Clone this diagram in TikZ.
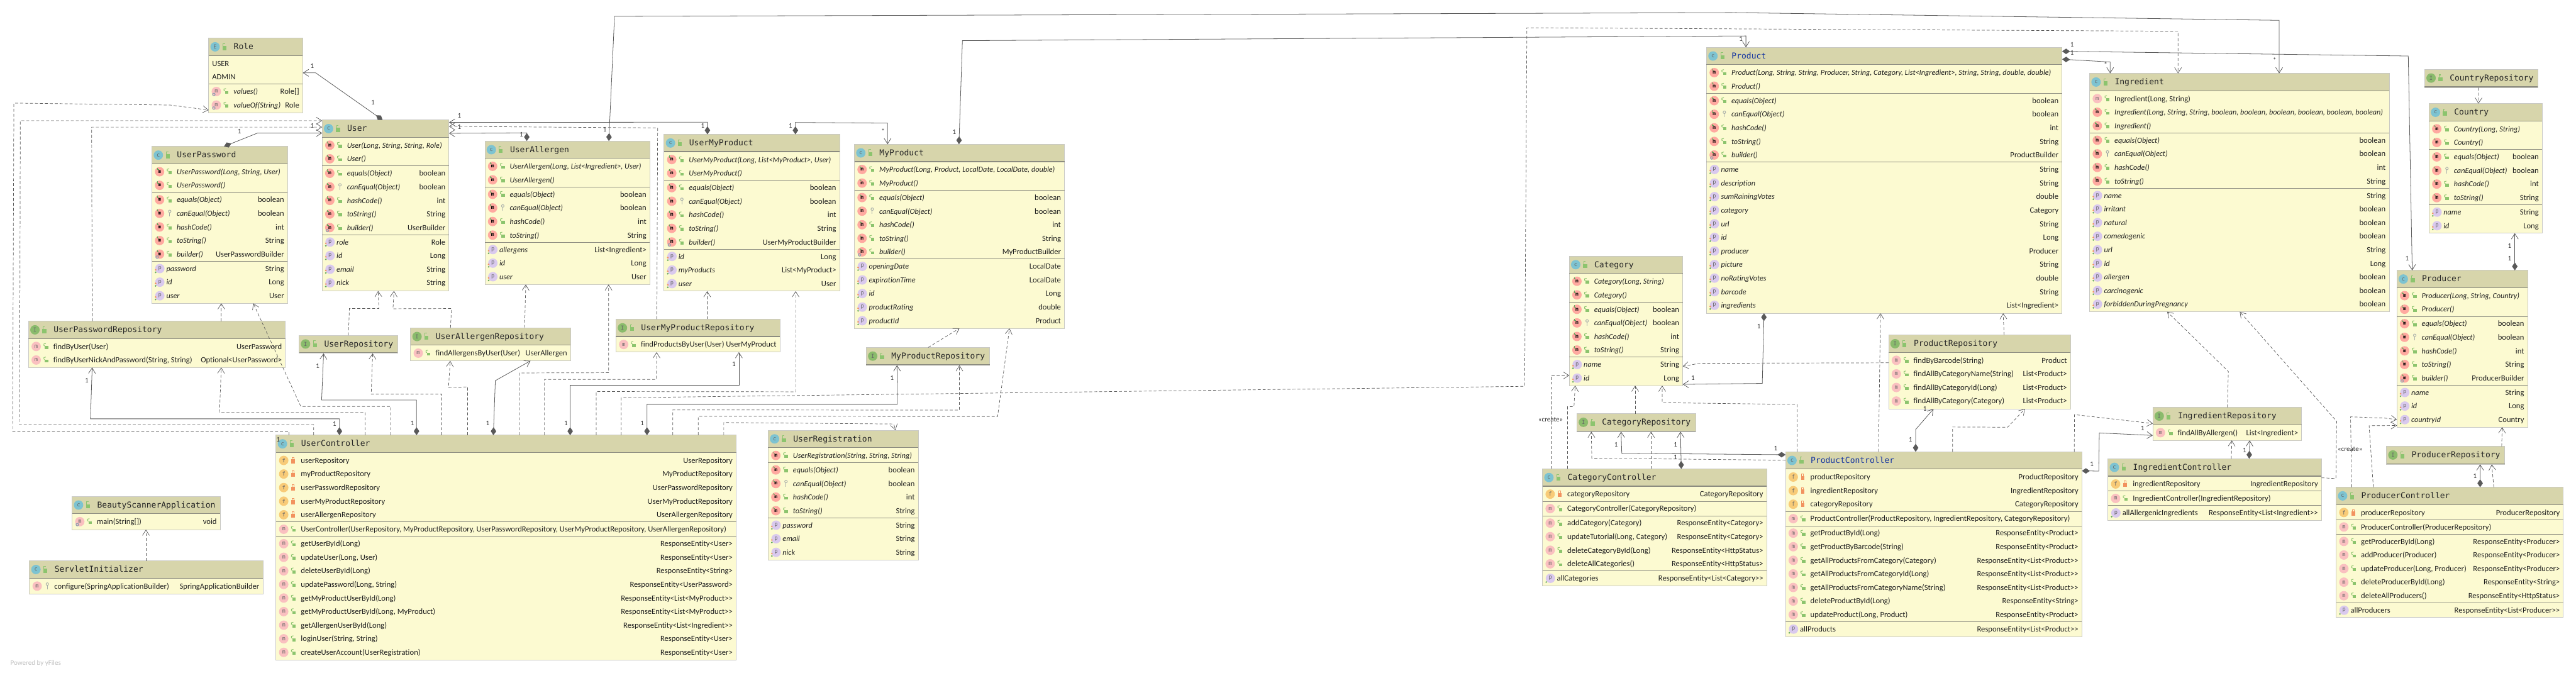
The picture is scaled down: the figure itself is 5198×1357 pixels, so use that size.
\documentclass[tikz,border=0pt]{standalone}
\usepackage{fontspec}
\setmainfont{Carlito}[Ligatures=NoCommon]
\newfontfamily\monofont{DejaVu Sans Mono}
\usetikzlibrary{arrows.meta}

\definecolor{headfill}{HTML}{D7D5AB}
\definecolor{bodyfill}{HTML}{FCFAD1}
\definecolor{boxedge}{HTML}{C9C9C4}
\definecolor{secedge}{HTML}{8C8C80}
\definecolor{linegray}{HTML}{595959}
\definecolor{ballm}{HTML}{FFA9A0}
\definecolor{ballpale}{HTML}{FAC0C0}
\definecolor{ballp}{HTML}{D9C9EE}
\definecolor{ballf}{HTML}{F8CB78}
\definecolor{ballc}{HTML}{7DC3D1}
\definecolor{balli}{HTML}{8ABB6C}
\definecolor{lockgreen}{HTML}{8CC46E}
\definecolor{lockred}{HTML}{F2925F}
\definecolor{keygray}{HTML}{A9AFAA}
\definecolor{staticgray}{HTML}{8E9FB0}
\definecolor{markgreen}{HTML}{62A85C}
\definecolor{titleblue}{HTML}{1233A0}

\tikzset{
  classbody/.style={draw=boxedge, fill=bodyfill, line width=1.2pt, inner sep=0pt, outer sep=0pt, anchor=north west},
  classhead/.style={draw=boxedge, fill=headfill, line width=1.2pt, inner sep=0pt, outer sep=0pt, anchor=north west, minimum height=35pt},
  rowlabel/.style={inner sep=0pt, text=black!88, font=\fontsize{16}{16}\selectfont},
  titlelabel/.style={inner sep=0pt, anchor=base west, text=black!85, font=\monofont\fontsize{16.5}{16.5}\selectfont},
  iconball/.style={circle, minimum size=19pt, inner sep=0pt, text=black!60, font=\monofont\fontsize{11}{11}\selectfont},
  secline/.style={draw=secedge, line width=1pt},
  headline/.style={draw=secedge, line width=1.6pt},
  dep/.style={draw=linegray, line width=.9pt, dash pattern=on 6pt off 4pt, -{Straight Barb[length=11pt,width=14pt,line width=.9pt]}},
  assoc/.style={draw=linegray, line width=1pt, {Diamond[length=16pt,width=11pt]}-{Straight Barb[length=11pt,width=14pt,line width=1pt]}},
  mult/.style={inner sep=0pt, text=black!80, font=\fontsize{14}{14}\selectfont},
}

\newcounter{rowno}
\newcommand{\itxt}{\itshape\fontsize{15.5}{15.5}\selectfont}
% name, kind letter, x0, y0, x1, y1, title
\newcommand{\umlclass}[7]{%
  \def\cname{#1}\def\cxa{#3}\def\cxb{#5}\setcounter{rowno}{0}%
  \pgfmathsetmacro\cwd{#5-#3}\pgfmathsetmacro\cht{#6-#4}\pgfmathsetmacro\cury{#4+51}\pgfmathsetmacro\cyh{#4+35}%
  \node[classbody, minimum width=\cwd pt, minimum height=\cht pt] (#1) at (#3,#4) {};
  \node[classhead, minimum width=\cwd pt] (#1-head) at (#3,#4) {};
  \draw[headline] (#3,\cyh) -- (#5,\cyh);
  \node[iconball, fill=\ifx#2Iballi\else ballc\fi] (#1-kind) at (#3+13,#4+17.5) {\ifx#2C c\else #2\fi};
  \fill[lockgreen] (#3+28,#4+16) rectangle (#3+36,#4+24);
  \draw[lockgreen, line width=1.3pt] (#3+29,#4+16) -- (#3+29,#4+11) -- (#3+33,#4+11);
  \node[titlelabel] (#1-title) at (#3+50.5,#4+23) {#7};
}
\newcommand{\rowtext}[3]{%
  \node[rowlabel, anchor=base west] (\cname-r\therowno) at (\cxa+#1,\cury+5.5) {#2};
  \node[rowlabel, anchor=base east] (\cname-t\therowno) at (\cxb-7,\cury+5.5) {#3};
  \pgfmathsetmacro\cury{\cury+27.4}
}
\newcommand{\publock}{%
  \fill[lockgreen] (\cxa+33,\cury-1) rectangle (\cxa+40,\cury+5);
  \draw[lockgreen, line width=1.2pt] (\cxa+33,\cury-1) -- (\cxa+31,\cury-2) -- (\cxa+31,\cury-5) -- (\cxa+35,\cury-6);
}
\newcommand{\prilock}{%
  \fill[lockred] (\cxa+31,\cury-2) rectangle (\cxa+38,\cury+6);
  \draw[lockred, line width=1.2pt] (\cxa+32.5,\cury-2) -- (\cxa+32.5,\cury-6) -- (\cxa+36.5,\cury-6) -- (\cxa+36.5,\cury-2);
}
\newcommand{\protkey}{%
  \draw[keygray, line width=1.2pt] (\cxa+36,\cury-4) circle (2.6pt);
  \draw[keygray, line width=1.4pt] (\cxa+36,\cury-1.5) -- (\cxa+36,\cury+6);
}
\newcommand{\boldball}{%
  \stepcounter{rowno}%
  \node[iconball, fill=ballm, text=black, font=\monofont\bfseries\fontsize{10}{10}\selectfont] (\cname-i\therowno) at (\cxa+15.5,\cury) {m};
  \draw[markgreen, line width=1.1pt] (\cxa+11,\cury-8) -- (\cxa+11,\cury-4.5) -- (\cxa+14,\cury-4.5);
}
\newcommand{\paleball}{%
  \stepcounter{rowno}%
  \node[iconball, fill=ballpale] (\cname-i\therowno) at (\cxa+15.5,\cury) {m};
}
\newcommand{\staticmark}{%
  \draw[staticgray, line width=1.4pt] (\cxa+10.5,\cury+6) circle (2.6pt);
}
% row kinds
\newcommand{\ovr}[2]{\boldball\publock\rowtext{50}{\itxt #1}{#2}}
\newcommand{\ovk}[2]{\boldball\protkey\rowtext{50}{\itxt #1}{#2}}
\newcommand{\ovs}[2]{\boldball\staticmark\publock\rowtext{50}{\itxt #1}{#2}}
\newcommand{\mth}[2]{\paleball\publock\rowtext{50}{#1}{#2}}
\newcommand{\mtk}[2]{\paleball\protkey\rowtext{50}{#1}{#2}}
\newcommand{\mts}[2]{\paleball\staticmark\publock\rowtext{50}{#1}{#2}}
\newcommand{\ens}[2]{\paleball\staticmark\publock\rowtext{50}{\itxt #1}{#2}}
\newcommand{\lit}[1]{\stepcounter{rowno}\rowtext{7}{#1}{}}
\newcommand{\fld}[2]{%
  \stepcounter{rowno}%
  \node[iconball, fill=ballf] (\cname-i\therowno) at (\cxa+15.5,\cury) {f};
  \prilock\rowtext{50}{#1}{#2}}
\newcommand{\prp}[2]{%
  \stepcounter{rowno}%
  \node[iconball, fill=ballp] (\cname-i\therowno) at (\cxa+16,\cury) {p};
  \fill[lockred] (\cxa+7.5,\cury+2.5) circle (1.8pt);
  \fill[markgreen] (\cxa+7.5,\cury+7.5) circle (1.8pt);
  \rowtext{29}{\itxt #1}{#2}}
\newcommand{\prq}[2]{%
  \stepcounter{rowno}%
  \node[iconball, fill=ballp] (\cname-i\therowno) at (\cxa+16,\cury) {p};
  \fill[markgreen] (\cxa+7.5,\cury+7.5) circle (1.8pt);
  \rowtext{29}{#1}{#2}}
\newcommand{\secrule}{%
  \draw[secline] (\cxa,\cury-13.1) -- (\cxb,\cury-13.1);
  \pgfmathsetmacro\cury{\cury+1.8}
}
\newcommand{\stdmethods}{%
  \ovr{equals(Object)}{boolean}
  \ovk{canEqual(Object)}{boolean}
  \ovr{hashCode()}{int}
  \ovr{toString()}{String}
}
\newcommand{\rr}{>\kern0pt>}

\begin{document}
\begin{tikzpicture}[x=1pt, y=-1pt]
  \useasboundingbox (0,0) rectangle (5198,1357);

  % user side
  \umlclass{Role}{E}{421}{77}{611}{228}{Role}
  \lit{USER} \lit{ADMIN} \secrule
  \ens{values()}{Role[]} \ens{valueOf(String)}{Role}

  \umlclass{User}{C}{650}{242}{906}{587}{User}
  \ovr{User(Long, String, String, Role)}{} \ovr{User()}{} \secrule
  \stdmethods \ovs{builder()}{UserBuilder} \secrule
  \prp{role}{Role} \prp{id}{Long} \prp{email}{String} \prp{nick}{String}

  \umlclass{UserPassword}{C}{306.5}{295.5}{580.5}{612}{UserPassword}
  \ovr{UserPassword(Long, String, User)}{} \ovr{UserPassword()}{} \secrule
  \stdmethods \ovs{builder()}{UserPasswordBuilder} \secrule
  \prp{password}{String} \prp{id}{Long} \prp{user}{User}

  \umlclass{UserAllergen}{C}{978.5}{284.5}{1311.5}{574}{UserAllergen}
  \ovr{UserAllergen(Long, List<Ingredient>, User)}{} \ovr{UserAllergen()}{} \secrule
  \stdmethods \secrule
  \prp{allergens}{List<Ingredient>} \prp{id}{Long} \prp{user}{User}

  \umlclass{UserMyProduct}{C}{1340}{271}{1694.5}{587.5}{UserMyProduct}
  \ovr{UserMyProduct(Long, List<MyProduct>, User)}{} \ovr{UserMyProduct()}{} \secrule
  \stdmethods \ovs{builder()}{UserMyProductBuilder} \secrule
  \prp{id}{Long} \prp{myProducts}{List<MyProduct>} \prp{user}{User}

  \umlclass{MyProduct}{C}{1724}{291}{2148}{662.5}{MyProduct}
  \ovr{MyProduct(Long, Product, LocalDate, LocalDate, double)}{} \ovr{MyProduct()}{} \secrule
  \stdmethods \ovs{builder()}{MyProductBuilder} \secrule
  \prp{openingDate}{LocalDate} \prp{expirationTime}{LocalDate} \prp{id}{Long} \prp{productRating}{double} \prp{productId}{Product}

  \umlclass{UserPasswordRepository}{I}{57.5}{648}{576}{741.5}{UserPasswordRepository}
  \mth{findByUser(User)}{UserPassword}
  \mth{findByUserNickAndPassword(String, String)}{Optional<UserPassword>}

  \umlclass{UserRepository}{I}{603.5}{676.5}{802.5}{713}{UserRepository}

  \umlclass{UserAllergenRepository}{I}{828.5}{661.5}{1151.5}{728}{UserAllergenRepository}
  \mth{findAllergensByUser(User)}{UserAllergen}

  \umlclass{UserMyProductRepository}{I}{1243}{644}{1574}{710.5}{UserMyProductRepository}
  \mth{findProductsByUser(User)}{UserMyProduct}

  \umlclass{MyProductRepository}{I}{1748}{701}{1997}{737}{MyProductRepository}

  \umlclass{UserController}{C}{557}{878}{1485.5}{1332}{UserController}
  \fld{userRepository}{UserRepository}
  \fld{myProductRepository}{MyProductRepository}
  \fld{userPasswordRepository}{UserPasswordRepository}
  \fld{userMyProductRepository}{UserMyProductRepository}
  \fld{userAllergenRepository}{UserAllergenRepository} \secrule
  \mth{UserController(UserRepository, MyProductRepository, UserPasswordRepository, UserMyProductRepository, UserAllergenRepository)}{} \secrule
  \mth{getUserById(Long)}{ResponseEntity<User>}
  \mth{updateUser(Long, User)}{ResponseEntity<User>}
  \mth{deleteUserById(Long)}{ResponseEntity<String>}
  \mth{updatePassword(Long, String)}{ResponseEntity<UserPassword>}
  \mth{getMyProductUserById(Long)}{ResponseEntity<List<MyProduct\rr}
  \mth{getMyProductUserById(Long, MyProduct)}{ResponseEntity<List<MyProduct\rr}
  \mth{getAllergenUserById(Long)}{ResponseEntity<List<Ingredient\rr}
  \mth{loginUser(String, String)}{ResponseEntity<User>}
  \mth{createUserAccount(UserRegistration)}{ResponseEntity<User>}

  \umlclass{UserRegistration}{C}{1550}{868}{1853}{1129.5}{UserRegistration}
  \ovr{UserRegistration(String, String, String)}{} \secrule
  \stdmethods \secrule
  \prp{password}{String} \prp{email}{String} \prp{nick}{String}

  \umlclass{BeautyScannerApplication}{C}{145.5}{1001.5}{444.5}{1068.5}{BeautyScannerApplication}
  \mts{main(String[])}{void}

  \umlclass{ServletInitializer}{C}{59.5}{1131.5}{530.5}{1198.5}{ServletInitializer}
  \mtk{configure(SpringApplicationBuilder)}{SpringApplicationBuilder}

  % product side
  \umlclass{Category}{C}{3166.5}{516.5}{3395.5}{778}{Category}
  \ovr{Category(Long, String)}{} \ovr{Category()}{} \secrule
  \stdmethods \secrule
  \prp{name}{String} \prp{id}{Long}

  \umlclass{Product}{C}{3443.5}{95.5}{4161}{632}{\textcolor{titleblue}{Product}}
  \ovr{Product(Long, String, String, Producer, String, Category, List<Ingredient>, String, String, double, double)}{} \ovr{Product()}{} \secrule
  \stdmethods \ovs{builder()}{ProductBuilder} \secrule
  \prp{name}{String} \prp{description}{String} \prp{sumRainingVotes}{double} \prp{category}{Category}
  \prp{url}{String} \prp{id}{Long} \prp{producer}{Producer} \prp{picture}{String}
  \prp{noRatingVotes}{double} \prp{barcode}{String} \prp{ingredients}{List<Ingredient>}

  \umlclass{Ingredient}{C}{4216.5}{148}{4821}{629}{Ingredient}
  \mth{Ingredient(Long, String)}{}
  \ovr{Ingredient(Long, String, String, boolean, boolean, boolean, boolean, boolean, boolean)}{} \ovr{Ingredient()}{} \secrule
  \stdmethods \secrule
  \prp{name}{String} \prp{irritant}{boolean} \prp{natural}{boolean} \prp{comedogenic}{boolean}
  \prp{url}{String} \prp{id}{Long} \prp{allergen}{boolean} \prp{carcinogenic}{boolean} \prp{forbiddenDuringPregnancy}{boolean}

  \umlclass{CountryRepository}{I}{4892.5}{140}{5121}{177}{CountryRepository}

  \umlclass{Country}{C}{4901.5}{209}{5130}{470.5}{Country}
  \ovr{Country(Long, String)}{} \ovr{Country()}{} \secrule
  \stdmethods \secrule
  \prp{name}{String} \prp{id}{Long}

  \umlclass{Producer}{C}{4836.5}{545.5}{5100.5}{862}{Producer}
  \ovr{Producer(Long, String, Country)}{} \ovr{Producer()}{} \secrule
  \stdmethods \ovs{builder()}{ProducerBuilder} \secrule
  \prp{name}{String} \prp{id}{Long} \prp{countryId}{Country}

  \umlclass{ProducerRepository}{I}{4815.5}{900.5}{5054}{937}{ProducerRepository}

  \umlclass{ProducerController}{C}{4714}{983}{5172.5}{1246}{ProducerController}
  \fld{producerRepository}{ProducerRepository} \secrule
  \mth{ProducerController(ProducerRepository)}{} \secrule
  \mth{getProducerById(Long)}{ResponseEntity<Producer>}
  \mth{addProducer(Producer)}{ResponseEntity<Producer>}
  \mth{updateProducer(Long, Producer)}{ResponseEntity<Producer>}
  \mth{deleteProducerById(Long)}{ResponseEntity<String>}
  \mth{deleteAllProducers()}{ResponseEntity<HttpStatus>} \secrule
  \prq{allProducers}{ResponseEntity<List<Producer\rr}

  \umlclass{IngredientRepository}{I}{4344}{822}{4644.5}{888.5}{IngredientRepository}
  \mth{findAllByAllergen()}{List<Ingredient>}

  \umlclass{IngredientController}{C}{4253.5}{925.5}{4684.5}{1049.5}{IngredientController}
  \fld{ingredientRepository}{IngredientRepository} \secrule
  \mth{IngredientController(IngredientRepository)}{} \secrule
  \prq{allAllergenicIngredients}{ResponseEntity<List<Ingredient\rr}

  \umlclass{ProductRepository}{I}{3811}{676}{4178}{825}{ProductRepository}
  \mth{findByBarcode(String)}{Product}
  \mth{findAllByCategoryName(String)}{List<Product>}
  \mth{findAllByCategoryId(Long)}{List<Product>}
  \mth{findAllByCategory(Category)}{List<Product>}

  \umlclass{CategoryRepository}{I}{3182}{834.5}{3421.5}{871}{CategoryRepository}

  \umlclass{CategoryController}{C}{3112.5}{946}{3565}{1182}{CategoryController}
  \fld{categoryRepository}{CategoryRepository} \secrule
  \mth{CategoryController(CategoryRepository)}{} \secrule
  \mth{addCategory(Category)}{ResponseEntity<Category>}
  \mth{updateTutorial(Long, Category)}{ResponseEntity<Category>}
  \mth{deleteCategoryById(Long)}{ResponseEntity<HttpStatus>}
  \mth{deleteAllCategories()}{ResponseEntity<HttpStatus>} \secrule
  \prq{allCategories}{ResponseEntity<List<Category\rr}

  \umlclass{ProductController}{C}{3603}{911.5}{4201}{1284.5}{\textcolor{titleblue}{ProductController}}
  \fld{productRepository}{ProductRepository}
  \fld{ingredientRepository}{IngredientRepository}
  \fld{categoryRepository}{CategoryRepository} \secrule
  \mth{ProductController(ProductRepository, IngredientRepository, CategoryRepository)}{} \secrule
  \mth{getProductById(Long)}{ResponseEntity<Product>}
  \mth{getProductByBarcode(String)}{ResponseEntity<Product>}
  \mth{getAllProductsFromCategory(Category)}{ResponseEntity<List<Product\rr}
  \mth{getAllProductsFromCategoryId(Long)}{ResponseEntity<List<Product\rr}
  \mth{getAllProductsFromCategoryName(String)}{ResponseEntity<List<Product\rr}
  \mth{deleteProductById(Long)}{ResponseEntity<String>}
  \mth{updateProduct(Long, Product)}{ResponseEntity<Product>} \secrule
  \prq{allProducts}{ResponseEntity<List<Product\rr}

  % connectors around User
  \draw[assoc] (772,0 |- User.north) -- (637,147) -- (Role.east |- 0,147);
  \draw[dep] (583,0 |- UserController.north) -- (583,870) -- (25.5,870) -- (28,208) -- (344,212) -- (Role.west |- 0,222);
  \draw[dep] (633,0 |- UserController.north) -- (633,857) -- (39.5,857) -- (41,243.5) -- (User.west |- 0,243.5);
  \draw[dep] (186,0 |- UserPasswordRepository.north) -- (185,256.5) -- (User.west |- 0,256.5);
  \draw[assoc] (452,0 |- UserPassword.north) -- (519.5,268.5) -- (User.west |- 0,268.5);
  \draw[assoc] (1063,0 |- UserAllergen.north) -- (1063,268) -- (User.east |- 0,269);
  \draw[assoc] (1427.5,0 |- UserMyProduct.north) -- (1427.5,246.5) -- (User.east |- 0,247);
  \draw[dep] (1325.5,0 |- UserMyProductRepository.north) -- (1327,258) -- (User.east |- 0,255);
  \draw[dep] (703,0 |- UserRepository.north) -- (705,622.5) -- (764.5,622.5) -- (763,0 |- User.south);
  \draw[dep] (909,0 |- UserAllergenRepository.north) -- (911,622.5) -- (793,623) -- (795,0 |- User.south);
  \draw[dep] (446.5,0 |- UserPasswordRepository.north) -- (446.5,0 |- UserPassword.south);
  \draw[dep] (1058.5,0 |- UserAllergenRepository.north) -- (1061,0 |- UserAllergen.south);
  \draw[dep] (1427,0 |- UserMyProductRepository.north) -- (1427,0 |- UserMyProduct.south);
  \draw[dep] (1873,0 |- MyProductRepository.north) -- (1936,0 |- MyProduct.south);
  \draw[dep] (294.5,0 |- ServletInitializer.north) -- (294.5,0 |- BeautyScannerApplication.south);
  \draw[assoc] (1605,0 |- UserMyProduct.north) -- (1605,247) -- (1791,248.5) -- (1791,0 |- MyProduct.north);

  % long lines over the top
  \draw[assoc] (1228.5,0 |- UserAllergen.north) -- (1240,33) -- (3500,25.5) -- (4599,41) -- (4599,0 |- Ingredient.north);
  \draw[assoc] (1935,0 |- MyProduct.north) -- (1942,82) -- (3523,72.5) -- (3523,0 |- Product.north);
  \draw[assoc] (Product.east |- 0,103.5) -- (4859.5,113) -- (4867.5,0 |- Producer.north);
  \draw[assoc] (Product.east |- 0,119.5) -- (4258,125) -- (4258,0 |- Ingredient.north);

  % connectors from UserController
  \draw[assoc] (685,0 |- UserController.north) -- (685,845) -- (182.5,845) -- (186,0 |- UserPasswordRepository.south);
  \draw[dep] (737,0 |- UserController.north) -- (737,832) -- (443,832) -- (446.5,0 |- UserPasswordRepository.south);
  \draw[dep] (788.5,0 |- UserController.north) -- (788.5,820) -- (607,820) -- (511,0 |- UserPassword.south);
  \draw[assoc] (840.5,0 |- UserController.north) -- (840.5,807) -- (649,807) -- (653,0 |- UserRepository.south);
  \draw[dep] (891.5,0 |- UserController.north) -- (891.5,795) -- (749,795) -- (752,0 |- UserRepository.south);
  \draw[dep] (943.5,0 |- UserController.north) -- (943.5,780.5) -- (905,782) -- (908.5,0 |- UserAllergenRepository.south);
  \draw[assoc] (995.5,0 |- UserController.north) -- (999.5,768) -- (1070.5,0 |- UserAllergenRepository.south);
  \draw[dep] (1048,0 |- UserController.north) -- (1048,752.5) -- (1228,752) -- (1228,0 |- UserAllergen.south);
  \draw[dep] (1098.5,0 |- UserController.north) -- (1098.5,765.5) -- (1324.5,765.5) -- (1325,0 |- UserMyProductRepository.south);
  \draw[assoc] (1150.5,0 |- UserController.north) -- (1150.5,777) -- (1491,777) -- (1491,0 |- UserMyProductRepository.south);
  \draw[dep] (1203,0 |- UserController.north) -- (1203,790) -- (1605.5,790.5) -- (1605.5,0 |- UserMyProduct.south);
  \draw[dep] (1253.5,0 |- UserController.north) -- (1253.5,802.5) -- (3076.5,779.5) -- (3081,56) -- (4395,63) -- (4395,0 |- Ingredient.north);
  \draw[assoc] (1305.5,0 |- UserController.north) -- (1305.5,815.5) -- (1811,815.5) -- (1810,0 |- MyProductRepository.south);
  \draw[dep] (1357.5,0 |- UserController.north) -- (1357.5,827) -- (1936,827.5) -- (1936,0 |- MyProductRepository.south);
  \draw[dep] (1409,0 |- UserController.north) -- (1409,840) -- (2013,840.5) -- (2037,0 |- MyProduct.south);
  \draw[dep] (1460.5,0 |- UserController.north) -- (1460.5,852.5) -- (1803.5,855.5) -- (1807,0 |- UserRegistration.north);

  % connectors around Category and Product
  \draw[assoc] (3559.5,0 |- Product.south) -- (3556,773.5) -- (Category.east |- 0,775.5);
  \draw[dep] (ProductRepository.west |- 0,732) -- (3430,733) -- (Category.east |- 0,739);
  \draw[dep] (4044,0 |- ProductRepository.north) -- (4042,0 |- Product.south);
  \draw[dep] (3790.5,0 |- ProductController.north) -- (3794.5,0 |- Product.south);
  \draw[dep] (3626.5,0 |- ProductController.north) -- (3626.5,816) -- (3354,812.5) -- (3354,0 |- Category.south);
  \draw[assoc] (3865.5,0 |- ProductController.north) -- (3865.5,866.5) -- (3901.5,0 |- ProductRepository.south);
  \draw[dep] (3940,0 |- ProductController.north) -- (3940,861.5) -- (4051,862) -- (4086,0 |- ProductRepository.south);
  \draw[dep] (4185.5,0 |- ProductController.north) -- (4186,836.5) -- (IngredientRepository.west |- 0,854.5);
  \draw[assoc] (ProductController.east |- 0,950) -- (4235,950.5) -- (4236,873.5) -- (IngredientRepository.west |- 0,878.5);
  \draw[assoc] (ProductController.west |- 0,917.5) -- (3272.5,914.5) -- (3271,0 |- CategoryRepository.south);
  \draw[dep] (ProductController.west |- 0,928.5) -- (3212,924.5) -- (3211,0 |- CategoryRepository.south);
  \draw[dep] (3331.5,0 |- CategoryController.north) -- (3331.5,0 |- CategoryRepository.south);
  \draw[assoc] (3392.5,0 |- CategoryController.north) -- (3391,0 |- CategoryRepository.south);
  \draw[dep] (3299.5,0 |- CategoryRepository.north) -- (3299.5,0 |- Category.south);
  \draw[dep] (3163,0 |- CategoryController.north) -- (3163,820.5) -- (3176,820.5) -- (3178.5,0 |- Category.south);
  \draw[dep] (3129.5,0 |- CategoryController.north) -- (3129.5,757.5) -- (Category.west |- 0,757.5);

  % connectors around Ingredient and Producer
  \draw[dep] (4494.5,0 |- IngredientRepository.north) -- (4496.5,749.5) -- (4373,0 |- Ingredient.south);
  \draw[dep] (IngredientController.east |- 0,964) -- (4713.5,965.5) -- (4715,850) -- (4519.5,0 |- Ingredient.south);
  \draw[dep] (4502.5,0 |- IngredientController.north) -- (4503.5,0 |- IngredientRepository.south);
  \draw[assoc] (4538.5,0 |- IngredientController.north) -- (4539.5,0 |- IngredientRepository.south);
  \draw[dep] (4745.5,0 |- ProducerController.north) -- (4743,841) -- (4811,843.5) -- (Producer.west |- 0,846.5);
  \draw[dep] (4789,0 |- ProducerController.north) -- (4780.5,859) -- (Producer.west |- 0,858.5);
  \draw[dep] (5048,0 |- ProducerRepository.north) -- (5049,0 |- Producer.south);
  \draw[assoc] (5004.5,0 |- ProducerController.north) -- (5004.5,0 |- ProducerRepository.south);
  \draw[dep] (5032,0 |- ProducerController.north) -- (5028,0 |- ProducerRepository.south);
  \draw[assoc] (5074.5,0 |- Producer.north) -- (5074.5,0 |- Country.south);
  \draw[dep] (5002,0 |- CountryRepository.south) -- (5001,0 |- Country.north);

  % multiplicities
  \node[mult] (m1) at (630,133) {1};
  \node[mult] (m2) at (752.5,207) {1};
  \node[mult] (m3) at (630,254) {1};
  \node[mult] (m4) at (483,265) {1};
  \node[mult] (m5) at (927,233) {1};
  \node[mult] (m6) at (927,256) {1};
  \node[mult] (m7) at (1052,271) {1};
  \node[mult] (m8) at (1220.5,261) {1};
  \node[mult] (m9) at (1418,254) {1};
  \node[mult] (m10) at (1595,254) {1};
  \node[mult] (m11) at (1782,265) {*};
  \node[mult] (m12) at (1925.5,266.5) {1};
  \node[mult] (m13) at (175,768) {1};
  \node[mult] (m14) at (641,739) {1};
  \node[mult] (m15) at (1481,735) {1};
  \node[mult] (m16) at (1800,763) {1};
  \node[mult] (m17) at (561,887) {1};
  \node[mult] (m18) at (675,855) {1};
  \node[mult] (m19) at (832,854) {1};
  \node[mult] (m20) at (984,854) {1};
  \node[mult] (m21) at (1142,854) {1};
  \node[mult] (m22) at (1296,854) {1};
  \node[mult] (m23) at (3513,78) {1};
  \node[mult] (m24) at (4181,90) {1};
  \node[mult] (m25) at (4181,106) {1};
  \node[mult] (m26) at (4249,130) {*};
  \node[mult] (m27) at (4590,121) {*};
  \node[mult] (m28) at (4857,521) {1};
  \node[mult] (m29) at (5064,495.5) {1};
  \node[mult] (m30) at (5064,521) {1};
  \node[mult] (m31) at (3549,658) {1};
  \node[mult] (m32) at (3416,762) {1};
  \node[mult] (m33) at (3884,825) {1};
  \node[mult] (m34) at (3855,887) {1};
  \node[mult] (m35) at (3583,905) {1};
  \node[mult] (m36) at (3261,897) {1};
  \node[mult] (m37) at (3381,897) {1};
  \node[mult] (m38) at (3381,923) {1};
  \node[mult] (m39) at (4221,937) {1};
  \node[mult] (m40) at (4323,864) {1};
  \node[mult] (m41) at (4529,908) {1};
  \node[mult] (m42) at (4994,960) {1};

  % stereotypes and footer
  \node[mult] (create1) at (3129,846.5) {«create»};
  \node[mult] (create2) at (4742,906) {«create»};
  \node[inner sep=0pt, text=black!25, font=\fontsize{14}{14}\selectfont] (footer) at (72,1338) {Powered by yFiles};
\end{tikzpicture}
\end{document}
